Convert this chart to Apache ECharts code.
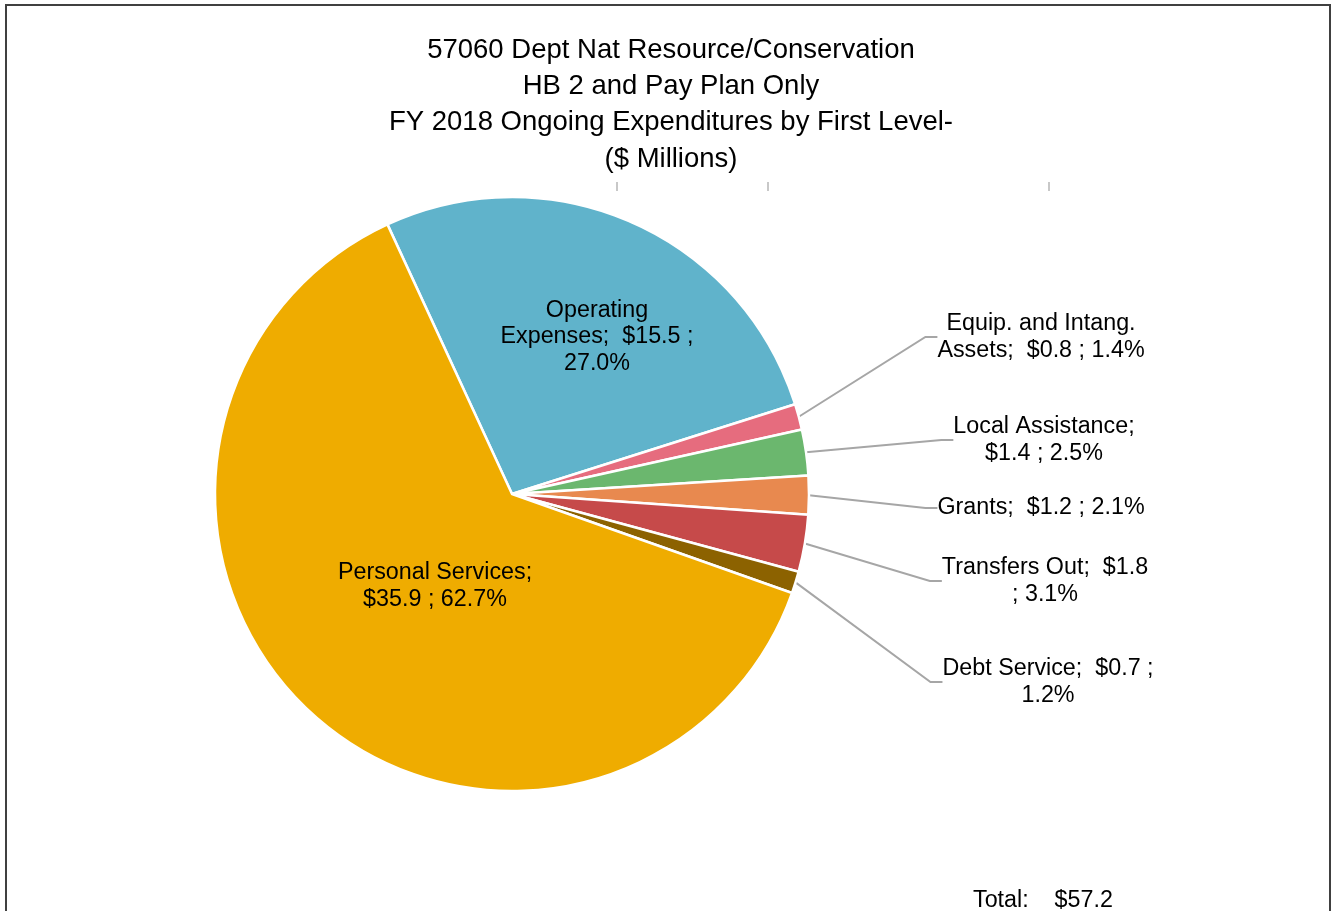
<!DOCTYPE html>
<html>
<head>
<meta charset="utf-8">
<title>57060 Dept Nat Resource/Conservation</title>
<script src="https://cdn.jsdelivr.net/npm/echarts@6/dist/echarts.min.js"></script>
<style>
  html, body { margin: 0; padding: 0; background: #fff; }
  #chart { width: 1333px; height: 911px; }
</style>
</head>
<body>
<div id="chart"></div>
<script>
// data
const categories = ['Operating Expenses', 'Equip. and Intang. Assets', 'Local Assistance', 'Grants', 'Transfers Out', 'Debt Service', 'Personal Services']
const dollars = [15.5, 0.8, 1.4, 1.2, 1.8, 0.7, 35.9]
const percents = [27.0, 1.4, 2.5, 2.1, 3.1, 1.2, 62.7]
const total = 57.2

// how each label wraps in the original
const labelTexts = [
  'Operating\nExpenses;  $15.5 ;\n27.0%',
  'Equip. and Intang.\nAssets;  $0.8 ; 1.4%',
  'Local Assistance;\n$1.4 ; 2.5%',
  'Grants;  $1.2 ; 2.1%',
  'Transfers Out;  $1.8\n; 3.1%',
  'Debt Service;  $0.7 ;\n1.2%',
  'Personal Services;\n$35.9 ; 62.7%'
]

const colors = ['#60b3cb', '#e66c7e', '#6bb76e', '#e8894f', '#c64a4a', '#8c6200', '#efac00']
// label centres (px)
const labelPos = [[597, 337], [1041, 337], [1044, 440], [1041, 508], [1045, 581], [1048, 682], [435, 586]]
const insideIdx = [0, 6]

const font = '"Liberation Sans", Arial, sans-serif'

const chart = echarts.init(document.getElementById('chart'))

const seriesData = categories.map((name, i) => ({
  name: name,
  value: percents[i],
  itemStyle: { color: colors[i] },
  label: { position: insideIdx.includes(i) ? 'inside' : 'outside' },
  labelLine: { show: !insideIdx.includes(i) }
}))

chart.setOption({
  animation: false,
  title: {
    text: '57060 Dept Nat Resource/Conservation\nHB 2 and Pay Plan Only\nFY 2018 Ongoing Expenditures by First Level-\n($ Millions)',
    left: 671,
    top: 32,
    padding: 0,
    textAlign: 'center',
    textStyle: {
      fontFamily: font,
      fontSize: 27.5,
      fontWeight: 'normal',
      color: '#000',
      lineHeight: 36.3
    }
  },
  graphic: [
    // chart frame
    {
      type: 'polyline',
      shape: { points: [[6, 920], [6, 5], [1330, 5], [1330, 920]] },
      style: { stroke: '#404040', lineWidth: 2, fill: null }
    },
    // stray tick marks under the title
    { type: 'line', shape: { x1: 617, y1: 182, x2: 617, y2: 191 }, style: { stroke: '#c8c8c8', lineWidth: 2 } },
    { type: 'line', shape: { x1: 768, y1: 182, x2: 768, y2: 191 }, style: { stroke: '#c8c8c8', lineWidth: 2 } },
    { type: 'line', shape: { x1: 1049, y1: 182, x2: 1049, y2: 191 }, style: { stroke: '#c8c8c8', lineWidth: 2 } },
    {
      type: 'text',
      left: 973,
      top: 889,
      style: {
        text: 'Total:    $' + total.toFixed(1),
        font: '23.3px ' + font,
        fill: '#000'
      }
    }
  ],
  series: [
    {
      type: 'pie',
      center: [512, 494],
      radius: 297,
      startAngle: 114.8,
      clockwise: true,
      avoidLabelOverlap: false,
      silent: true,
      itemStyle: {
        borderColor: '#fff',
        borderWidth: 2.5
      },
      label: {
        formatter: p => labelTexts[p.dataIndex],
        fontFamily: font,
        fontSize: 23.3,
        lineHeight: 26.5,
        color: '#000',
        align: 'center'
      },
      labelLine: {
        length: 20,
        length2: 12,
        lineStyle: { color: '#a6a6a6', width: 2 }
      },
      labelLayout: function (params) {
        const pos = labelPos[params.dataIndex]
        return {
          x: pos[0],
          y: pos[1],
          align: 'center',
          verticalAlign: 'middle'
        }
      },
      data: seriesData
    }
  ]
})
</script>
</body>
</html>
